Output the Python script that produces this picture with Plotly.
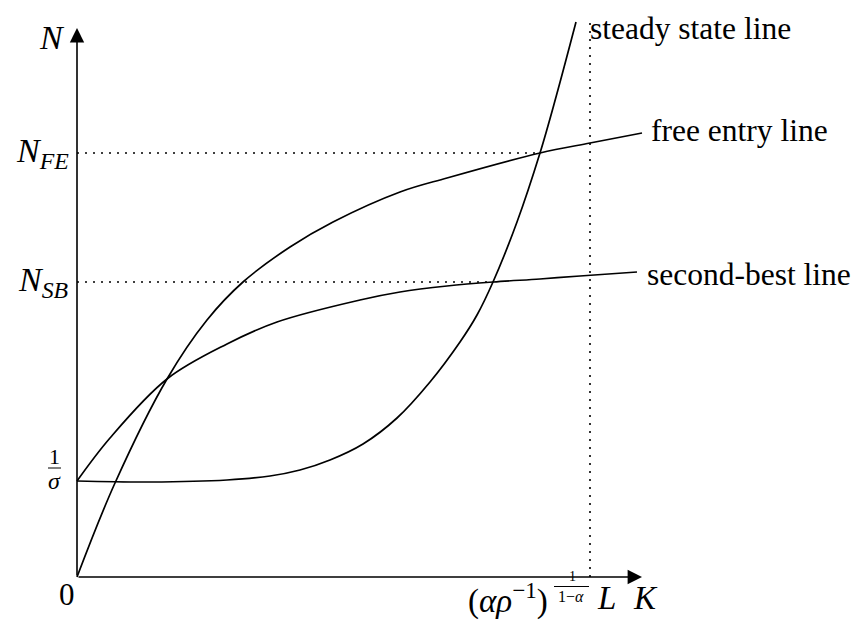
import plotly.graph_objects as go

# Capital stock K and number of firms N (arbitrary units)
K_BAR = 5.13          # (alpha rho^-1)^(1/(1-alpha)) L
N_FE = 4.24           # free entry equilibrium
N_SB = 2.95           # second-best equilibrium
INV_SIGMA = 0.96      # 1/sigma

free_entry_k = [0.00, 0.38, 0.90, 1.30, 1.66, 2.13, 2.56, 3.23, 3.70, 4.63, 5.13, 5.65]
free_entry_n = [0.00, 0.94, 1.98, 2.57, 2.95, 3.30, 3.55, 3.85, 3.99, 4.24, 4.34, 4.44]

steady_k = [0.00, 0.73, 1.50, 1.93, 2.23, 2.53, 2.86, 3.20, 3.53, 3.83, 4.00, 4.16, 4.40, 4.63, 4.79, 4.99]
steady_n = [0.96, 0.95, 0.97, 1.01, 1.07, 1.17, 1.33, 1.59, 1.95, 2.35, 2.62, 2.95, 3.55, 4.24, 4.80, 5.55]

second_best_k = [0.00, 0.33, 0.90, 1.50, 2.00, 2.83, 3.23, 3.70, 4.16, 4.63, 5.03, 5.60]
second_best_n = [0.96, 1.39, 1.98, 2.33, 2.55, 2.77, 2.85, 2.91, 2.95, 2.98, 3.01, 3.05]

K_AXIS_END = 5.65
N_AXIS_END = 5.49
K_BAR_TOP = 5.57

FONT = "Liberation Serif"
BLACK = "#000000"
DOT = "2px,6px"

fig = go.Figure()

curve_line = dict(color=BLACK, width=1.7, shape="spline", smoothing=1.0)
for ks, ns in [(free_entry_k, free_entry_n), (steady_k, steady_n), (second_best_k, second_best_n)]:
    fig.add_trace(go.Scatter(x=ks, y=ns, mode="lines", line=curve_line,
                             hoverinfo="skip", showlegend=False))

# guide lines
dotted = dict(color=BLACK, width=1.6, dash=DOT)
fe_k = free_entry_k[free_entry_n.index(N_FE)]
sb_k = second_best_k[second_best_n.index(N_SB)]
fig.add_trace(go.Scatter(x=[0, fe_k], y=[N_FE, N_FE], mode="lines", line=dotted,
                         hoverinfo="skip", showlegend=False))
fig.add_trace(go.Scatter(x=[0, sb_k], y=[N_SB, N_SB], mode="lines", line=dotted,
                         hoverinfo="skip", showlegend=False))
fig.add_trace(go.Scatter(x=[K_BAR, K_BAR], y=[0, K_BAR_TOP], mode="lines", line=dotted,
                         hoverinfo="skip", showlegend=False))

annotations = []

# axes with arrowheads
for tip_x, tip_y in [(K_AXIS_END, 0), (0, N_AXIS_END)]:
    annotations.append(dict(x=tip_x, y=tip_y, ax=0, ay=0, xref="x", yref="y",
                            axref="x", ayref="y", text="", showarrow=True,
                            arrowhead=2, arrowsize=1.8, arrowwidth=1.6,
                            arrowcolor=BLACK, standoff=0, startstandoff=0))


def label(x, y, text, size, xanchor="center", yanchor="middle"):
    annotations.append(dict(x=x, y=y, xref="x", yref="y", text=text, showarrow=False,
                            xanchor=xanchor, yanchor=yanchor, borderpad=0,
                            font=dict(family=FONT, size=size, color=BLACK)))


label(-0.25, 5.40, "<i>N</i>", 34)
label(-0.07, N_FE, "<i>N</i><sub><i>FE</i></sub>", 34, xanchor="right")
label(-0.07, N_SB, "<i>N</i><sub><i>SB</i></sub>", 34, xanchor="right")
label(-0.225, INV_SIGMA + 0.25, "1", 22)
label(-0.225, INV_SIGMA + 0.00, "<i>σ</i>", 24)
label(-0.10, -0.17, "0", 31)

label(4.72, -0.21, "(<i>αρ</i><sup>−1</sup>)", 33, xanchor="right")
label(4.95, 0.005, "1", 14)
label(4.94, -0.19, "1−<i>α</i>", 16)
label(5.29, -0.21, "<i>L</i>", 33)
label(5.68, -0.21, "<i>K</i>", 33)

label(K_BAR - 0.01, 5.49, "steady state line", 31.5, xanchor="left")
label(5.73, 4.47, "free entry line", 31.5, xanchor="left")
label(5.69, 3.03, "second-best line", 31.5, xanchor="left")

# fraction bars
shapes = [
    dict(type="line", xref="x", yref="y", x0=-0.29, x1=-0.16,
         y0=INV_SIGMA + 0.13, y1=INV_SIGMA + 0.13, line=dict(color=BLACK, width=1)),
    dict(type="line", xref="x", yref="y", x0=4.77, x1=5.12,
         y0=-0.095, y1=-0.095, line=dict(color=BLACK, width=1)),
]

fig.update_layout(
    width=864, height=621,
    margin=dict(l=0, r=0, t=0, b=0),
    paper_bgcolor="white", plot_bgcolor="white",
    xaxis=dict(range=[-0.77, 7.87], visible=False, fixedrange=True),
    yaxis=dict(range=[-0.44, 5.77], visible=False, fixedrange=True),
    annotations=annotations,
    shapes=shapes,
)

fig.write_html("out.html")
